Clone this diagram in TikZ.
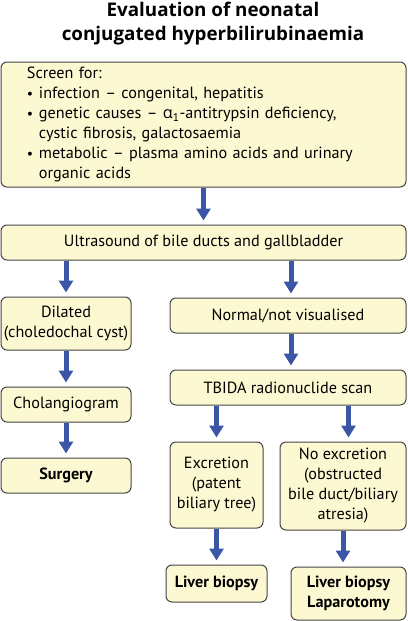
\documentclass[tikz,border=0pt]{standalone}
\usepackage{fontspec}
\setmainfont{PT Sans}
\newfontfamily\titlefont{Open Sans}
\usetikzlibrary{arrows.meta,positioning}
\definecolor{boxfill}{HTML}{FCF8D2}
\definecolor{boxline}{HTML}{454545}
\definecolor{arrowblue}{HTML}{3B56A6}
\newcommand{\blt}{\makebox[12pt][l]{\fontsize{14}{20}\selectfont\textbullet}}

\begin{document}
\begin{tikzpicture}[x=1pt, y=-1pt,
    every node/.style={font=\fontsize{16.2}{20}\selectfont},
    box/.style={draw=boxline, fill=boxfill, line width=1pt, rounded corners=6pt,
      align=center, inner sep=0pt},
    boldbox/.style={box, font=\fontsize{16.2}{20}\selectfont\bfseries},
    flow/.style={arrowblue, line width=5pt, -{Triangle[width=14pt,length=12pt]}}]
    \useasboundingbox (0,0) rectangle (407,621);
    \node[font=\titlefont\fontsize{18.8}{24}\selectfont\bfseries, align=center] (title) at (213,24)
      {Evaluation of neonatal\\conjugated hyperbilirubinaemia};
    \node[box, minimum width=405pt, minimum height=125pt, align=left, text width=353pt] (screen) at (203.5,124.5)
      {Screen for:\\
       \blt infection -- congenital, hepatitis\\
       \blt genetic causes -- {\titlefont α}\textsubscript{1}-antitrypsin deficiency,\\
       \hspace*{12pt}cystic fibrosis, galactosaemia\\
       \blt metabolic -- plasma amino acids and urinary\\
       \hspace*{12pt}organic acids};
    \node[box, minimum width=405pt, minimum height=35pt] (ultra) at (203.5,242.5) {Ultrasound of bile ducts and gallbladder};
    \node[box, minimum width=130pt, minimum height=53pt] (dilated) at (66,323.5) {Dilated\\(choledochal cyst)};
    \node[box, minimum width=236pt, minimum height=35pt] (normal) at (288,315.5) {Normal/not visualised};
    \node[box, minimum width=130pt, minimum height=35pt] (cholang) at (66,404.5) {Cholangiogram};
    \node[box, minimum width=236pt, minimum height=35pt] (tbida) at (288,387.5) {TBIDA radionuclide scan};
    \node[boldbox, minimum width=130pt, minimum height=35pt] (surgery) at (66,475.5) {Surgery};
    \node[box, minimum width=93pt, minimum height=86pt] (excr) at (216.5,485) {Excretion\\(patent\\biliary tree)};
    \node[box, minimum width=126pt, minimum height=88pt] (noexcr) at (343,486) {No excretion\\(obstructed\\bile duct/biliary\\atresia)};
    \node[boldbox, minimum width=101pt, minimum height=37pt] (biopsy) at (216.5,583.5) {Liver biopsy};
    \node[boldbox, minimum width=115pt, minimum height=53pt] (laparo) at (348.5,593.5) {Liver biopsy\\Laparotomy};
    % arrows
    \draw[flow] (screen.south) -- ([yshift=4pt]ultra.north);
    \draw[flow] (ultra.south -| dilated) -- ([yshift=4pt]dilated.north);
    \draw[flow] ([xshift=3pt]ultra.south -| normal) -- ([xshift=3pt,yshift=4pt]normal.north);
    \draw[flow] (dilated) -- ([yshift=4pt]cholang.north);
    \draw[flow] (cholang) -- ([yshift=4pt]surgery.north);
    \draw[flow] ([xshift=3pt]normal.south) -- ([xshift=3pt,yshift=4pt]tbida.north);
    \draw[flow] (tbida.south -| excr) -- ([yshift=4pt]excr.north);
    \draw[flow] (tbida.south -| laparo) -- ([yshift=4pt]noexcr.north -| laparo);
    \draw[flow] (excr) -- ([yshift=4pt]biopsy.north);
    \draw[flow] (noexcr.south) -- ([yshift=4pt]laparo.north -| noexcr.south);
\end{tikzpicture}
\end{document}
